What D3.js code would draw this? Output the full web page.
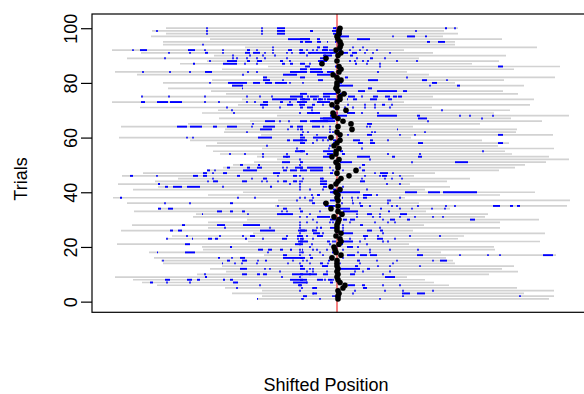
<!DOCTYPE html>
<html>
<head>
<meta charset="utf-8">
<script src="https://cdn.jsdelivr.net/npm/d3@7"></script>
<style>
  body { margin: 0; background: #fff; }
  svg { display: block; font-family: "Liberation Sans", Arial, Helvetica, sans-serif; }
</style>
</head>
<body>
<script>
const WIDTH = 584
const HEIGHT = 394

// Data (trial 1 .. trial 100), positions shifted so the event sits at 0
const windowLength = 292
const windowStart = [
  -80, -75, -105, -75, -112, -180, -195, -204, -222, -140,
  -111, -127, -115, -174, -176, -183, -73, -188, -134, -135,
  -220, -89, -171, -165, -84, -216, -129, -205, -129, -90,
  -144, -141, -203, -179, -62, -210, -59, -224, -129, -94,
  -204, -179, -219, -182, -159, -215, -194, -130, -114, -104,
  -83, -60, -80, -117, -124, -75, -131, -120, -147, -218,
  -76, -113, -112, -216, -149, -87, -118, -60, -135, -119,
  -197, -99, -225, -95, -196, -111, -126, -169, -105, -174,
  -125, -74, -200, -222, -115, -69, -157, -130, -210, -123,
  -196, -225, -92, -174, -174, -127, -186, -171, -185, -171
]
const eventPos = [
  1, 1, 2, 1, 6, 8, 3, 1, 0, 1,
  0, 1, 0, 0, 0, -5, 4, -1, -2, -3,
  2, 4, 3, -1, 4, 0, 0, 0, 1, 2,
  -3, 5, 1, -6, 1, -11, 1, 0, 1, -1,
  3, -6, -1, 1, 4, 12, 0, 19, 1, 1,
  -1, 2, -5, -1, -1, 2, -3, 0, 3, -6,
  3, 0, 15, 1, 14, 6, 1, -3, -4, 9,
  0, -5, 0, 3, 3, 7, 1, -1, 0, 0,
  4, 0, -4, 2, 4, 2, -15, 0, -11, 1,
  4, -1, 3, 4, 3, 1, 0, 2, 2, 3
]
// blue hits per trial: "a:b" is a run, a single number is one hit
const hits = [
  "-80:-79 -34 -17 -35 43",
  "-34:-30 -2 -4 66 183",
  "-24:-20 -24 16 65:73 80:88",
  "-37 18 48 66 96",
  "-100 -24:-20 -35 -24 26:30",
  "-77 -39:-35 -37 11:18 25:28 46 63",
  "-187:-184 -170 -147 -104:-99 -44:-30 -7:-4 -30",
  "-172:-167 -150:-145 -140:-137 -114:-112 -107:-104 -47:-30 -20:-14 -9:-5 -37:-34 -12 -4",
  "-132:-130 -55 -37 48:58",
  "-132 -95:-90 -80:-77 -74:-70 -45:-20 -37:-34 -27 -14:-9 13:18 46",
  "-57 -30 -10 -24 18 26 53",
  "-97:-90 -72 -67 -27 -37:-32 -24 0:23 30:33",
  "-15:-9 -37:-34 18:21 41 53 83",
  "-115:-114 -102 -95 -80 -49 -27 -17:-14 -9 -37 3 23 56",
  "-174 -110:-107 -95:-90 -79 -72:-70 -44 -30 -9:-7 -34 20:23 40 60 96 103:110",
  "-119:-117 -105 -97:-92 -54:-32 -27:-24 -7 -37:-34 6",
  "-74:-72 -54:-50 -27 -37 -14 10:18 23:30 33:40 80:86 123 151 163 206:216",
  "-180:-179 -152:-142 -69 -35 -17 -5:-2 -37 -34 21 33 104",
  "-79:-74 -69:-65 -57:-54 -47:-45 -35:-34 -24 -37 -20 -10 6 33 53 81",
  "-107:-105 -2 -27 0 10:16 21",
  "-152:-147 -42:-34 -25 -37 -7 0:6 30",
  "-39:-29 -10:-7 -2 -37:-34 -4 5:16 23 46 51",
  "-170 -145:-144 -129:-125 -122:-119 -92:-90 -74 -55:-50 -39 -34 -37:-34 -24 13 28 40:46 58",
  "-150 -117 -94 -87:-82 -50 -40:-34 -20:-14 -37 -30 26:31 41 73 103",
  "-24:-17 -14 -37 0 3:16 46",
  "-167:-164 -159:-155 -77:-62 -39:-30 -25:-20 -37:-32 -24 6 30:35 43:46",
  "-112 -67 -7:-2 -37 -20 -17:-15 6 43",
  "-155:-152 -120:-112 -94:-77 -37 6 23:26",
  "-7 -37 -30 -20 -4 13 38 51 58",
  "-7:0 -24 6:10 13:18 46 53:58 70:73 133:138",
  "-20:-7 -2 -37 -30 3 20 36 43 63 78 96 106",
  "-135:-134 -89 -60:-44 -27 20 30:35 43 63:70",
  "-120:-115 -107:-104 -95:-92 -55 -50 -37:-34 -17 6:21 51:53",
  "-179:-176 -169:-164 -54:-50 -37 3:13 43:45 63 75 95 108",
  "-59 -7:-2 -12:-4 23:26 33 55 60 81 109 118 156:163 173:176 180:183",
  "-172 -147 -107:-104 -14:-10 -25:-22 5 16 23 51",
  "-40 -25 -7:-2 -27 15:16 51 53",
  "-217:-215 -99 -82 -37 -32 -24 5:6 15 21 26:30 63",
  "-25 -20:-17 26:35 40",
  "-7:-2 -5:23 68:80 91:103 106:140",
  "-27 -14 -37 -4:0 30",
  "-172:-169 -164:-155 -150:-137 -114 -67:-65 -14:-10 -37 6",
  "-179:-177 -47 -37 -17:-10 50 63",
  "-129 -124:-119 -95:-90 -75 -70 -59 -54:-50 -44:-40 -37 -17:-10 -35 23:28",
  "-124 -85 -74:-70 -17:-14 -34 -14 25 48 55 65",
  "-207:-204 -180 -144:-139 -134:-130 -100:-97 -59 -44:-40 -37 28 43 45:50 63",
  "-134:-130 -124 -114:-110 -64:-57 -7:-4 38 43:51 56",
  "-130:-127 -122 -94:-80 -54:-50 -47:-40 -37:-30 -27:-14 -4 6 25:28",
  "-110:-107 -90:-87 -80:-75 -54 -50 -42:-34 -30:-14 -7 -37:-34 3 23",
  "-97:-94 -79:-77 -37 0 25:28",
  "-55:-47 -37:-34 3:15 75 118:131",
  "-37 1 33",
  "-74 -54:-47 -50 -14:-5 20:33 55:58 81:85",
  "-107 -92 -74 -50 -10:-4 -30 -7 5:8 51 83",
  "-42:-32 -14:-7 -7:-4 -37:-34 -2 3:6 146",
  "-40 -8 25",
  "-70 -7",
  "-37:-32 -24 -4:0 21:26 33:38 81:86 161:166",
  "-50:-47 -44:-30 -20 -37:-34 -14 -9 -4:1 16:23 33:36 51",
  "-150 -144 -79:-65 -37:-32 -24:-10 3",
  "-104 -87 -37:-34 -20 0 11 30:35 63 78 161:166",
  "-90 -7 -34 -29 -4 35 38 88",
  "-77:-65 -49 -39 -37:-34 -7 60:61",
  "-160:-150 -147:-135 -124:-120 -110:-100 -85 -74:-62 -47:-44 -40:-34 -25:-17 -7 -14 30 33",
  "-84 30:35",
  "-72:-62 -57 -48 -25:-2 -37:-30 -27:-9 91",
  "-14:0 -17:-4 81:90 145",
  "-7:0 0:10 40:60 80:83 123 133 156",
  "-103 -30:-17 -37 -24 -2:1 10:18 25 41",
  "-105 -25 105",
  "-110 -74 -57 -37:-34 -30:-24 -4:0 8 16 28 38 53",
  "-77:-69 -50:-44 -37 -37:-32 -25:-22 -14 -4 11 28 38 45:48 55",
  "-196:-192 -180:-169 -167:-155 -132 -118 -90 -82 -74:-69 -57:-54 -47 -40:-30 -20:-7",
  "-95 -65:-40 -37:-27 -17 -10:0 -35:-32 -24:-20 -19:-14 -12 10:11 16:20 33:40 51:55",
  "-195 -168 -132 -90 -77 -65 -47:-34 -27:-20 -14:-7 -37:-34 -29 -19 0:5 11:18 25 36:41 48:53 56:60 61:65",
  "-14:0 -37:-30 3:10",
  "-127 21:28 40:60 66:70",
  "-95:-94 31:35",
  "-105:-94 0:16 93 120:123",
  "-127 -109:-90 -84:-77 -72:-65 -62:-50 -47 -34 0:5 95:100",
  "-74:-67 -54 -19:-14 1:5 31:41 85:90 110",
  "-74:-70 -37:-32 8:11 70",
  "-94 -54:-40 -20:-7 -4:0",
  "-194 -167 -147 -132:-125 -89 -80 -47:-30 -27:-14 -10:-4 -15 -4 41",
  "-37:-30 -27:-15",
  "-74:-69 -32:-27 -2:0 43 161:166",
  "-144:-142 -114:-100 -92 -80 -55:-52 -47:-44 -17 -37:-32 -27 18:20 30 43",
  "-127 -110:-100 -90:-87 -80:-75 -57:-54 -47 -17:-14 -19:-10 13 18 26 31 60 80",
  "-172 -104 -100 -90 -80 -72 -50 -14:-10 -17:-10 0 20 33:36 48",
  "-104 -87 -74 -62 -14:-5 -30 -12 13:16",
  "-168 -147 -132:-129 -114 -92:-87 -84:-77 -72 -64 -50 -45 -37 -29:-17 -7:0 -37:-32 -27 -17:-4 0:5 6:11 15:20 28 36 53",
  "-204 -197:-190 -149:-142 -132 -114 -90:-87 -80 -64 -49:-45 -37 -20 -14:-9 -5 -37:-34 -30 -24 -15:-10 -7 0:5 13 23 30 40",
  "-64 -14:-9 -20:-17 1:5 16 26",
  "-134 0:1",
  "-32:-25 -20:-16 -37:-34 -10:-9 -2:5 90:93 101:108",
  "-49:-27 -20:-17 -37:-27 20:33",
  "0:12 56 70:78 88:90",
  "-130 -75 -60:-52 -4:0 0:5",
  "-180 -130 -75 -60:-52 -25 -5:0 -27:-24 -2:5 79 108:110 118",
  "-130 -75 -60:-52 -4:0 -2:5 108:110 118"
]
const yTicks = [0, 20, 40, 60, 80, 100]

const rows = windowStart.map((s, i) => ({
  trial: i + 1,
  start: s,
  end: s + windowLength,
  event: eventPos[i],
  hits: hits[i].split(" ").map(tok => {
    const p = tok.split(":").map(Number)
    return p.length === 2 ? p : [p[0] - 0.8, p[0] + 0.8]
  }).filter(h => h[0] >= s && h[1] <= s + windowLength)
}))

// Scales
const plot = { left: 92, top: 14, right: 600, bottom: 312.3 }
const x = d3.scaleLinear().domain([-245, 263]).range([plot.left, plot.right])
const y = d3.scaleLinear().domain([-3.9, 105.2]).range([plot.bottom, plot.top])

// Render
const svg = d3.select("body").append("svg")
  .attr("width", WIDTH)
  .attr("height", HEIGHT)

// trial windows
svg.append("g")
  .attr("stroke", "#d2d2d2")
  .attr("stroke-width", 1.7)
  .selectAll("line")
  .data(rows)
  .join("line")
    .attr("x1", d => x(d.start))
    .attr("x2", d => x(d.end))
    .attr("y1", d => y(d.trial))
    .attr("y2", d => y(d.trial))

// hits
svg.append("g")
  .attr("stroke", "#0000ff")
  .attr("stroke-width", 1.9)
  .selectAll("g")
  .data(rows)
  .join("g")
  .selectAll("line")
  .data(d => d.hits.map(h => ({ trial: d.trial, a: h[0], b: h[1] })))
  .join("line")
    .attr("x1", d => x(d.a))
    .attr("x2", d => x(d.b))
    .attr("y1", d => y(d.trial))
    .attr("y2", d => y(d.trial))

// event line
svg.append("line")
  .attr("x1", x(0)).attr("x2", x(0))
  .attr("y1", plot.top).attr("y2", plot.bottom)
  .attr("stroke", "#f04040")
  .attr("stroke-width", 1.3)

// event dots
svg.append("g")
  .selectAll("circle")
  .data(rows)
  .join("circle")
    .attr("cx", d => x(d.event))
    .attr("cy", d => y(d.trial))
    .attr("r", 2.8)
    .attr("fill", "#000")

// frame
svg.append("rect")
  .attr("x", plot.left)
  .attr("y", plot.top)
  .attr("width", plot.right - plot.left)
  .attr("height", plot.bottom - plot.top)
  .attr("fill", "none")
  .attr("stroke", "#000")
  .attr("stroke-width", 1.2)

// y axis
svg.append("g")
  .attr("transform", `translate(${plot.left},0)`)
  .call(d3.axisLeft(y).tickValues(yTicks).tickSize(11).tickSizeOuter(0))
  .call(g => g.select(".domain").remove())
  .call(g => g.selectAll(".tick line").attr("stroke-width", 1.2))
  .call(g => g.selectAll(".tick text")
    .attr("font-size", 18)
    .attr("font-family", "Liberation Sans, Arial, sans-serif")
    .attr("fill", "#000")
    .attr("text-anchor", "middle")
    .attr("x", 0)
    .attr("y", -15)
    .attr("dy", null)
    .attr("transform", "rotate(-90)"))

svg.append("text")
  .attr("transform", "translate(27,179) rotate(-90)")
  .attr("text-anchor", "middle")
  .attr("font-size", 18)
  .text("Trials")

svg.append("text")
  .attr("x", 326)
  .attr("y", 391)
  .attr("text-anchor", "middle")
  .attr("font-size", 18)
  .text("Shifted Position")
</script>
</body>
</html>
